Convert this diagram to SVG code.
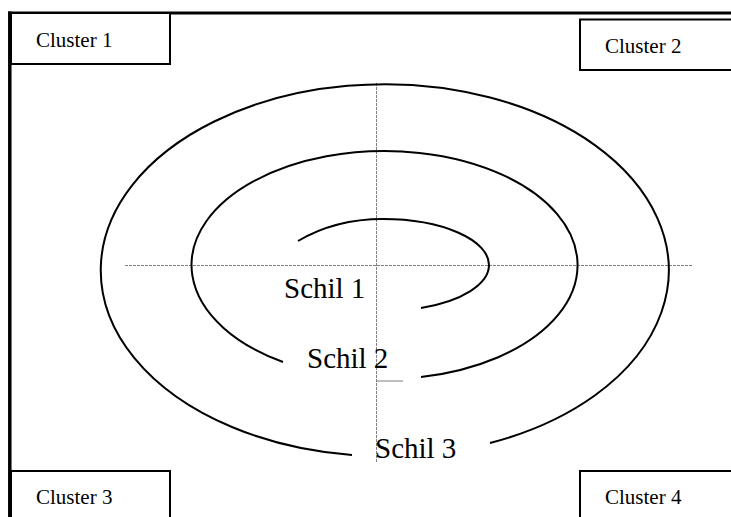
<svg xmlns="http://www.w3.org/2000/svg" width="731" height="517" viewBox="0 0 731 517">
  <style>
    .frame { stroke: #000; fill: none; }
    .box { fill: #fff; stroke: #000; stroke-width: 2; }
    .box-label { font-family: "Liberation Serif", "Times New Roman", serif; font-size: 21px; fill: #000; }
    .shell { fill: none; stroke: #000; stroke-width: 2; }
    .shell-label { font-family: "Liberation Serif", "Times New Roman", serif; font-size: 29px; fill: #000; }
    .axis { stroke: #7f7f7f; stroke-width: 1; stroke-dasharray: 3 1; fill: none; }
    .tick { stroke: #7f7f7f; stroke-width: 1; fill: none; }
  </style>
  <rect width="731" height="517" fill="#fff"/>

  <!-- page frame: top and left rules -->
  <g id="frame">
    <line class="frame" x1="8" y1="13" x2="731" y2="13" stroke-width="3"/>
    <line class="frame" x1="9.8" y1="11.5" x2="9.8" y2="517" stroke-width="3.5"/>
  </g>

  <!-- guide axes -->
  <g id="connectors">
    <line class="axis" x1="125" y1="265.5" x2="693" y2="265.5"/>
    <line class="axis" x1="376.5" y1="83" x2="376.5" y2="462"/>
    <line class="tick" x1="376" y1="381" x2="403" y2="381"/>
  </g>

  <!-- corner clusters -->
  <g id="cluster1">
    <rect class="box" x="11" y="13" width="159" height="51"/>
    <text class="box-label" x="36" y="47">Cluster 1</text>
  </g>
  <g id="cluster2">
    <rect class="box" x="580" y="19.5" width="160" height="50.5"/>
    <text class="box-label" x="605" y="53">Cluster 2</text>
  </g>
  <g id="cluster3">
    <rect class="box" x="11" y="471" width="159" height="60"/>
    <text class="box-label" x="36" y="504">Cluster 3</text>
  </g>
  <g id="cluster4">
    <rect class="box" x="580" y="471" width="160" height="60"/>
    <text class="box-label" x="605" y="504">Cluster 4</text>
  </g>

  <!-- spiral shells -->
  <g id="schil1">
    <path class="shell" d="M298,241 C320,228 350,219 383,219 A106,46 0 0 1 489,265 A106,46 0 0 1 421,308"/>
    <text class="shell-label" x="284" y="298">Schil 1</text>
  </g>
  <g id="schil2">
    <path class="shell" d="M283,362 A193,114 0 1 1 421,377"/>
    <text class="shell-label" x="307" y="368">Schil 2</text>
  </g>
  <g id="schil3">
    <path class="shell" d="M352,455 A284,186 0 1 1 490,443"/>
    <text class="shell-label" x="375" y="458">Schil 3</text>
  </g>
</svg>
